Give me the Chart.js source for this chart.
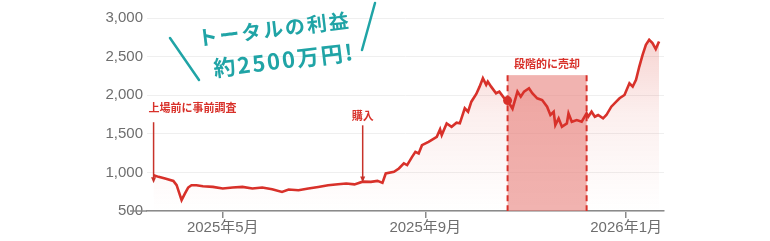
<!DOCTYPE html>
<html>
<head>
<meta charset="utf-8">
<script src="https://cdn.jsdelivr.net/npm/chart.js@4.4.1/dist/chart.umd.min.js"></script>
<style>
  body { margin: 0; background: #fff; }
  #wrap { width: 770px; height: 241px; position: relative; }
</style>
</head>
<body>
<div id="wrap"><canvas id="chart"></canvas></div>
<script>
// Price series
const dates = [
  '2025-03-20', '2025-03-23', '2025-03-27', '2025-04-01', '2025-04-03', '2025-04-06', '2025-04-08', '2025-04-10',
  '2025-04-12', '2025-04-15', '2025-04-19', '2025-04-25', '2025-05-01', '2025-05-07', '2025-05-13', '2025-05-19',
  '2025-05-25', '2025-05-31', '2025-06-06', '2025-06-10', '2025-06-16', '2025-06-22', '2025-06-28', '2025-07-04',
  '2025-07-10', '2025-07-15', '2025-07-20', '2025-07-25', '2025-07-30', '2025-08-03', '2025-08-06', '2025-08-08',
  '2025-08-13', '2025-08-16', '2025-08-19', '2025-08-21', '2025-08-24', '2025-08-26', '2025-08-28', '2025-08-30',
  '2025-09-03', '2025-09-08', '2025-09-10', '2025-09-11', '2025-09-14', '2025-09-17', '2025-09-20', '2025-09-22',
  '2025-09-25', '2025-09-27', '2025-09-29', '2025-10-02', '2025-10-04', '2025-10-06', '2025-10-08', '2025-10-09',
  '2025-10-11', '2025-10-14', '2025-10-16', '2025-10-19', '2025-10-21', '2025-10-24', '2025-10-27', '2025-10-29',
  '2025-10-31', '2025-11-03', '2025-11-05', '2025-11-08', '2025-11-11', '2025-11-14', '2025-11-16', '2025-11-18',
  '2025-11-19', '2025-11-21', '2025-11-23', '2025-11-26', '2025-11-27', '2025-11-29', '2025-12-02', '2025-12-05',
  '2025-12-08', '2025-12-09', '2025-12-11', '2025-12-13', '2025-12-15', '2025-12-18', '2025-12-20', '2025-12-23',
  '2025-12-26', '2025-12-28', '2025-12-31', '2026-01-03', '2026-01-05', '2026-01-07', '2026-01-09', '2026-01-11',
  '2026-01-13', '2026-01-15', '2026-01-17', '2026-01-19', '2026-01-21'
];
const values = [
  964, 942, 920, 890, 834, 640, 726, 804,
  834, 834, 821, 812, 791, 804, 812, 791,
  804, 782, 747, 778, 769, 791, 812, 834,
  847, 856, 845, 880, 877, 890, 864, 986,
  1007, 1051, 1116, 1094, 1201, 1266, 1245, 1353,
  1396, 1461, 1557, 1483, 1635, 1591, 1643, 1635,
  1830, 1786, 1916, 2016, 2111, 2220, 2133, 2176,
  2111, 2025, 2046, 1960, 1930, 1825, 2046, 1981,
  2046, 2090, 2025, 1960, 1938, 1851, 1743, 1786,
  1613, 1700, 1591, 1635, 1765, 1656, 1678, 1656,
  1765, 1721, 1786, 1721, 1743, 1700, 1743, 1851,
  1916, 1960, 2003, 2155, 2111, 2198, 2371, 2523,
  2653, 2718, 2675, 2597, 2696
];

// Axes
const xRange = ['2025-03-16', '2026-01-24'];
const tickDates = ['2025-05-01', '2025-09-01', '2026-01-01'];
const tickLabels = ['2025年5月', '2025年9月', '2026年1月'];
const yMin = 500, yMax = 3000, yStep = 500;

// Selling period box
const sellStart = '2025-10-21';
const sellEnd = '2025-12-08';
const sellTop = 2260;
const sellLabel = '段階的に売却';

// Marker where selling began
const markerDate = '2025-10-21';
const markerValue = 1930;

// Arrow notes
const noteDates = ['2025-03-20', '2025-07-25'];
const noteTops = [1650, 1610];
const noteBottoms = [860, 870];
const noteLabels = ['上場前に事前調査', '購入'];

// Callout
const calloutLines = ['トータルの利益', '約2500万円!'];

const RED = '#d8312a';
const TEAL = '#20a4a6';

function toDay(s) {
  return (Date.parse(s) - Date.parse('2025-01-01')) / 864e5;
}

const seriesPoints = dates.map((d, i) => ({ x: toDay(d), y: values[i] }));

const overlayPlugin = {
  id: 'overlay',
  beforeDatasetsDraw(chart) {
    const { ctx, chartArea, scales: { x, y } } = chart;
    const x0 = x.getPixelForValue(toDay(sellStart));
    const x1 = x.getPixelForValue(toDay(sellEnd));
    const yt = y.getPixelForValue(sellTop);
    const yb = chartArea.bottom;
    ctx.save();
    ctx.fillStyle = 'rgba(232, 128, 124, 0.6)';
    ctx.fillRect(x0, yt, x1 - x0, yb - yt);
    ctx.strokeStyle = RED;
    ctx.lineWidth = 2;
    ctx.setLineDash([6, 4]);
    ctx.beginPath();
    ctx.moveTo(x0, yt); ctx.lineTo(x0, yb);
    ctx.moveTo(x1, yt); ctx.lineTo(x1, yb);
    ctx.stroke();
    ctx.setLineDash([]);
    ctx.fillStyle = RED;
    ctx.font = 'bold 11px "Noto Sans CJK JP"';
    ctx.textAlign = 'center';
    ctx.textBaseline = 'middle';
    ctx.fillText(sellLabel, (x0 + x1) / 2, yt - 11);
    ctx.restore();
  },
  afterDraw(chart) {
    const { ctx, chartArea, scales: { x, y } } = chart;
    ctx.save();

    // extend bottom axis line to the left
    ctx.strokeStyle = '#8a8a8a';
    ctx.lineWidth = 1.5;
    ctx.beginPath();
    ctx.moveTo(130, chartArea.bottom);
    ctx.lineTo(chartArea.left, chartArea.bottom);
    ctx.stroke();

    // arrows with labels
    noteDates.forEach((d, i) => {
      const px = x.getPixelForValue(toDay(d));
      const top = y.getPixelForValue(noteTops[i]);
      const bot = y.getPixelForValue(noteBottoms[i]);
      ctx.strokeStyle = '#c8322a';
      ctx.fillStyle = '#c8322a';
      ctx.lineWidth = 1.5;
      ctx.beginPath();
      ctx.moveTo(px, top);
      ctx.lineTo(px, bot - 4);
      ctx.stroke();
      ctx.beginPath();
      ctx.moveTo(px - 2.5, bot - 6);
      ctx.lineTo(px + 2.5, bot - 6);
      ctx.lineTo(px, bot);
      ctx.closePath();
      ctx.fill();
      ctx.fillStyle = RED;
      ctx.font = 'bold 11px "Noto Sans CJK JP"';
      ctx.textBaseline = 'middle';
      if (i === 0) {
        ctx.textAlign = 'left';
        ctx.fillText(noteLabels[i], px - 5, top - 14);
      } else {
        ctx.textAlign = 'center';
        ctx.fillText(noteLabels[i], px, top - 9);
      }
    });

    // teal callout
    ctx.fillStyle = TEAL;
    ctx.strokeStyle = TEAL;
    ctx.lineWidth = 2.5;
    ctx.lineCap = 'round';
    ctx.beginPath();
    ctx.moveTo(170, 38); ctx.lineTo(199, 80);
    ctx.moveTo(375, 3); ctx.lineTo(362, 50);
    ctx.stroke();
    ctx.textAlign = 'center';
    ctx.textBaseline = 'middle';
    ctx.letterSpacing = '2px';
    ctx.font = '600 20px "Noto Sans CJK JP"';
    ctx.translate(274, 29);
    ctx.rotate(-0.12);
    ctx.fillText(calloutLines[0], 0, 0);
    ctx.rotate(0.12);
    ctx.translate(10, 31);
    ctx.rotate(-0.12);
    ctx.font = '600 22px "Noto Sans CJK JP"';
    ctx.fillText(calloutLines[1], 0, 0);
    ctx.restore();
  }
};

const ctx = document.getElementById('chart').getContext('2d');
new Chart(ctx, {
  type: 'line',
  data: {
    datasets: [
      {
        data: [{ x: toDay(markerDate), y: markerValue }],
        showLine: false,
        pointRadius: 4.5,
        pointBackgroundColor: RED,
        pointBorderWidth: 0
      },
      {
        data: seriesPoints,
        borderColor: RED,
        borderWidth: 2.6,
        pointRadius: 0,
        tension: 0,
        fill: 'start',
        backgroundColor: function(context) {
          const area = context.chart.chartArea;
          if (!area) return 'rgba(217,54,42,0.1)';
          const g = context.chart.ctx.createLinearGradient(0, area.top, 0, area.bottom);
          g.addColorStop(0, 'rgba(217,54,42,0.25)');
          g.addColorStop(0.5, 'rgba(217,54,42,0.08)');
          g.addColorStop(1, 'rgba(217,54,42,0)');
          return g;
        }
      }
    ]
  },
  options: {
    responsive: true,
    maintainAspectRatio: false,
    animation: false,
    layout: { padding: { left: 105, right: 106, top: 18, bottom: 0 } },
    plugins: {
      legend: { display: false },
      tooltip: { enabled: false }
    },
    scales: {
      x: {
        type: 'linear',
        min: toDay(xRange[0]),
        max: toDay(xRange[1]),
        afterBuildTicks: scale => {
          scale.ticks = tickDates.map(d => ({ value: toDay(d) }));
        },
        afterFit: scale => { scale.height = 30; },
        ticks: {
          autoSkip: false,
          maxRotation: 0,
          padding: 1,
          color: '#6e6e6e',
          font: { family: '"Liberation Sans", "Noto Sans CJK JP"', size: 15 },
          callback: (value, index) => tickLabels[index]
        },
        grid: {
          drawOnChartArea: false,
          drawTicks: true,
          tickLength: 7,
          color: '#8a8a8a',
          lineWidth: 1.5
        },
        border: { display: true, color: '#8a8a8a', width: 1.5 }
      },
      y: {
        min: yMin,
        max: yMax,
        afterFit: scale => { scale.width = 42; },
        ticks: {
          stepSize: yStep,
          padding: 4,
          color: '#6e6e6e',
          font: { family: '"Liberation Sans"', size: 15 }
        },
        grid: { color: '#efefef', drawTicks: false },
        border: { display: false }
      }
    }
  },
  plugins: [overlayPlugin]
});
</script>
</body>
</html>
